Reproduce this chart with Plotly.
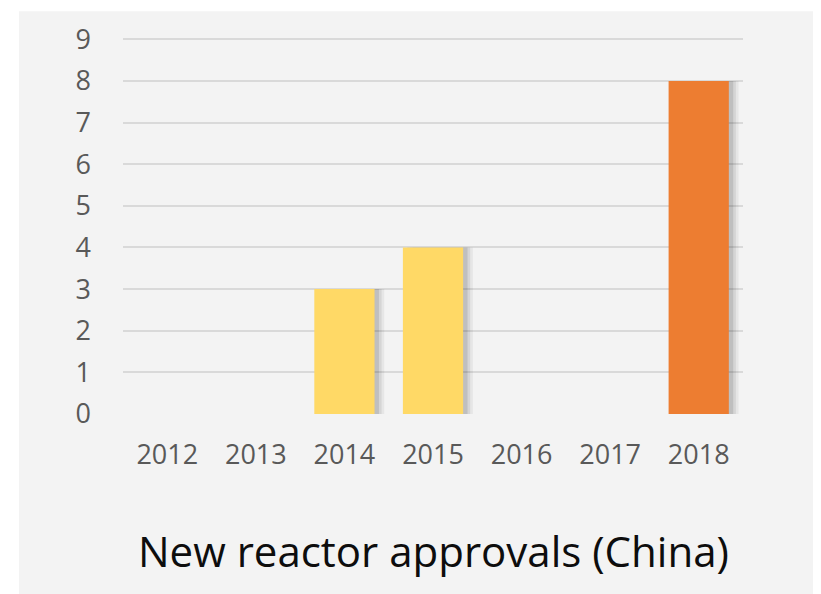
import plotly.graph_objects as go

years = ["2012", "2013", "2014", "2015", "2016", "2017", "2018"]
approvals = [0, 0, 3, 4, 0, 0, 8]
bar_colors = ["#FFD966", "#FFD966", "#FFD966", "#FFD966", "#FFD966", "#FFD966", "#ED7D31"]
y_ticks = [0, 1, 2, 3, 4, 5, 6, 7, 8, 9]

FONT = "Open Sans"
TEXT = "#595959"
GRID = "#D9D9D9"
PANEL = "#F3F3F3"

# the page body adds an 8px margin, so figure coords = screen coords - 8
W, H = 821, 594
L, T = 115, 25            # plot area left/top (figure px)
R, B = W - 735, H - 406   # plot area right at 735, bottom at 406
pw, ph = W - L - R, H - T - B

fig = go.Figure()

# soft drop shadow behind the bars (stacked translucent layers)
for dx, alpha in [(0.11, 0.05), (0.08, 0.07), (0.05, 0.10)]:
    fig.add_bar(
        x=years,
        y=approvals,
        width=0.68,
        offset=-0.34 + dx,
        marker={"color": f"rgba(0,0,0,{alpha})", "line": {"width": 0}},
        hoverinfo="skip",
        showlegend=False,
    )

fig.add_bar(
    x=years,
    y=approvals,
    width=0.68,
    offset=-0.34,
    marker={"color": bar_colors, "line": {"width": 0}},
    showlegend=False,
)

# gray chart panel, white strip only on the left
fig.add_shape(
    type="rect",
    xref="paper",
    yref="paper",
    x0=(11 - L) / pw,
    x1=(W + 2 - L) / pw,
    y0=-(H + 2 - T - ph) / ph,
    y1=1 + (T + 2) / ph,
    fillcolor=PANEL,
    line={"width": 0},
    layer="below",
)

fig.add_annotation(
    text="New reactor approvals (China)",
    xref="paper",
    yref="paper",
    x=0.5,
    y=-(544 - 406) / ph,
    xanchor="center",
    yanchor="middle",
    showarrow=False,
    font={"family": FONT, "size": 42, "color": "#0D0D0D"},
)

fig.update_layout(
    width=W,
    height=H,
    margin={"l": L, "r": R, "t": T, "b": B},
    paper_bgcolor="white",
    plot_bgcolor="rgba(0,0,0,0)",
    barmode="overlay",
    bargap=0.32,
    font={"family": FONT, "size": 27, "color": TEXT},
    xaxis={
        "type": "category",
        "showgrid": False,
        "showline": False,
        "ticks": "",
        "ticklabelstandoff": 22,
        "tickfont": {"size": 27, "color": TEXT},
    },
    yaxis={
        "range": [0, 9.03],
        "tickvals": y_ticks,
        "showgrid": True,
        "gridcolor": GRID,
        "gridwidth": 1.5,
        "zeroline": False,
        "showline": False,
        "ticks": "",
        "ticklabelstandoff": 31,
        "tickfont": {"size": 27, "color": TEXT},
    },
)

fig.write_html("out.html")
